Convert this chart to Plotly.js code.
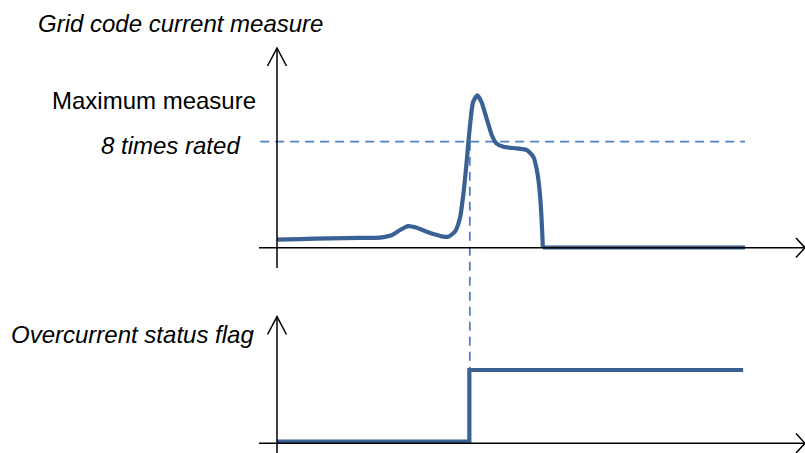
<!DOCTYPE html>
<html>
<head>
<meta charset="utf-8">
<script src="https://cdn.plot.ly/plotly-3.0.1.min.js"></script>
<style>html,body{margin:0;padding:0;background:#fff;}#chart{width:805px;height:453px;}</style>
</head>
<body>
<div id="chart"></div>
<script>
// Time axis (arbitrary units, 0..100) and current in multiples of rated current
const time = [0, 4.9, 11.3, 17.7, 22.0, 24.6, 26.3, 28.0, 29.7, 31.6, 33.8, 35.5, 36.6, 38.0, 39.1, 39.8, 40.4, 40.9, 41.4, 41.9, 42.8, 43.7, 44.8, 45.9, 46.9, 48.4, 51.2, 53.4, 54.8, 55.6, 56.2, 56.6, 56.8, 70, 85, 100];
const current = [0.60, 0.64, 0.69, 0.73, 0.75, 0.94, 1.32, 1.62, 1.51, 1.25, 0.98, 0.82, 0.82, 1.19, 2.23, 3.96, 6.0, 7.98, 9.77, 11.0, 11.5, 11.0, 9.75, 8.49, 7.86, 7.61, 7.49, 7.36, 6.85, 5.72, 3.96, 1.70, 0, 0, 0, 0];
// Overcurrent status flag (step)
const flagTime = [0, 41.1, 41.1, 99.6];
const flagValue = [0, 0, 1, 1];
// Threshold
const thresholdLevel = 8;
const thresholdStart = -3.6;
const thresholdEnd = 100;
// Labels
const titleTop = "Grid code current measure";
const labelMax = "Maximum measure";
const labelThreshold = "8 times rated";
const titleBottom = "Overcurrent status flag";

const W = 805, H = 453;
const px = v => v / W;
const py = v => 1 - v / H;
const lineColor = '#3A6193';
const dashColor = '#4F81C4';
const axisColor = '#000000';
const font = {family: 'Liberation Sans, Arial, sans-serif', size: 24, color: '#000'};

// split the measure at the drop to zero: smooth part and flat part
const dropIdx = current.indexOf(0);
const traces = [
  {x: time.slice(0, dropIdx + 1), y: current.slice(0, dropIdx + 1), xaxis: 'x', yaxis: 'y', mode: 'lines',
   line: {color: lineColor, width: 4.2, shape: 'spline', smoothing: 0.6}, hoverinfo: 'skip'},
  {x: time.slice(dropIdx), y: current.slice(dropIdx), xaxis: 'x', yaxis: 'y', mode: 'lines',
   line: {color: lineColor, width: 4.2}, hoverinfo: 'skip'},
  {x: flagTime, y: flagValue, xaxis: 'x', yaxis: 'y2', mode: 'lines',
   line: {color: lineColor, width: 4.2}, hoverinfo: 'skip'}
];

function seg(x0, y0, x1, y1, extra) {
  return Object.assign({type: 'line', xref: 'paper', yref: 'paper',
    x0: px(x0), y0: py(y0), x1: px(x1), y1: py(y1),
    line: {color: axisColor, width: 1.5}}, extra || {});
}
function chevron(points) {
  const d = points.map((p, i) => (i ? 'L' : 'M') + px(p[0]) + ',' + py(p[1])).join(' ');
  return {type: 'path', xref: 'paper', yref: 'paper', path: d, line: {color: axisColor, width: 1.5}};
}

const shapes = [
  // threshold dashed lines
  {type: 'line', xref: 'x', yref: 'y', x0: thresholdStart, x1: thresholdEnd, y0: thresholdLevel, y1: thresholdLevel,
   line: {color: dashColor, width: 1.8, dash: '9px,6px'}, layer: 'below'},
  {type: 'line', xref: 'x', yref: 'paper', x0: flagTime[1] + 0.1, x1: flagTime[1] + 0.1, y0: py(141.7), y1: py(368),
   line: {color: dashColor, width: 1.8, dash: '9px,6px'}, layer: 'below'},
  // top axes
  seg(277, 48, 277, 268),
  seg(259, 247.7, 805, 247.7),
  chevron([[267.5, 66], [277, 48], [286.5, 66]]),
  chevron([[796, 238], [805, 247.7], [796, 257.4]]),
  // bottom axes
  seg(277, 316.7, 277, 453),
  seg(259, 443.3, 805, 443.3),
  chevron([[267.5, 334.5], [277, 316.7], [286.5, 334.5]]),
  chevron([[796, 433.6], [805, 443.3], [796, 453]])
];

const annotations = [
  {text: '<i>' + titleTop + '</i>', xref: 'paper', yref: 'paper', x: px(36), y: py(23), xanchor: 'left', yanchor: 'middle', showarrow: false, font: font},
  {text: labelMax, xref: 'paper', yref: 'paper', x: px(50), y: py(100), xanchor: 'left', yanchor: 'middle', showarrow: false, font: font},
  {text: '<i>' + labelThreshold + '</i>', xref: 'paper', yref: 'paper', x: px(242), y: py(145), xanchor: 'right', yanchor: 'middle', showarrow: false, font: font},
  {text: '<i>' + titleBottom + '</i>', xref: 'paper', yref: 'paper', x: px(9), y: py(334), xanchor: 'left', yanchor: 'middle', showarrow: false, font: font}
];

const layout = {
  width: W, height: H,
  margin: {l: 0, r: 0, t: 0, b: 0, pad: 0},
  paper_bgcolor: '#fff', plot_bgcolor: '#fff',
  showlegend: false,
  xaxis: {range: [-277 / 4.68, 528 / 4.68], visible: false, fixedrange: true},
  yaxis: {range: [-15.539, 18.714], visible: false, fixedrange: true},
  yaxis2: {range: [-0.1576, 6.160], visible: false, overlaying: 'y', fixedrange: true},
  shapes: shapes,
  annotations: annotations,
  font: font
};

Plotly.newPlot('chart', traces, layout, {displayModeBar: false, staticPlot: true});
</script>
</body>
</html>
